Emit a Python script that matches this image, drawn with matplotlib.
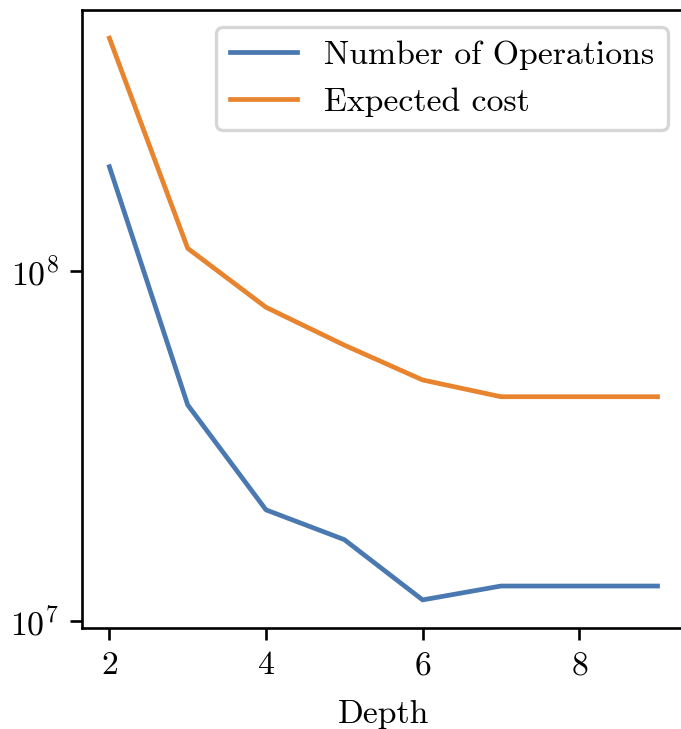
import matplotlib
matplotlib.use("Agg")
import matplotlib.pyplot as plt

# depth vs. cost
depth = [2, 3, 4, 5, 6, 7, 8, 9]
num_operations = [1.99e8, 4.15e7, 2.08e7, 1.71e7, 1.15e7, 1.26e7, 1.26e7, 1.26e7]
expected_cost = [4.64e8, 1.163e8, 7.89e7, 6.15e7, 4.89e7, 4.38e7, 4.38e7, 4.38e7]

plt.rcParams['font.family'] = ['cmr10', 'DejaVu Serif']
plt.rcParams['mathtext.fontset'] = 'cm'
plt.rcParams['axes.formatter.use_mathtext'] = True
plt.rcParams['font.size'] = 24.3
plt.rcParams['axes.linewidth'] = 1.9
plt.rcParams['xtick.major.size'] = 8.4
plt.rcParams['ytick.major.size'] = 8.4
plt.rcParams['xtick.major.width'] = 1.9
plt.rcParams['ytick.major.width'] = 1.9
plt.rcParams['xtick.major.pad'] = 8.4
plt.rcParams['ytick.major.pad'] = 8.4
plt.rcParams['patch.linewidth'] = 2.4

fig = plt.figure(figsize=(6.81, 7.29), dpi=100)
# right edge of the axes runs past the figure, as in the cropped original
ax = fig.add_axes([82 / 681, 101 / 729, 615 / 681, 618 / 729])

ax.plot(depth, num_operations, color='#4a78b0', lw=3.4, label='Number of Operations')
ax.plot(depth, expected_cost, color='#e8832e', lw=3.4, label='Expected cost')
ax.set_yscale('log')
ax.minorticks_off()
ax.set_xlim(1.65, 1.65 + 615 / 78.3)
ax.set_xticks([2, 4, 6, 8])
ax.spines['right'].set_visible(False)
ax.set_xlabel('Depth')
ax.xaxis.set_label_coords(301.5 / 615, -72 / 618)
ax.legend(loc='upper right', bbox_to_anchor=(668 / 681, 1 - 27 / 729),
          bbox_transform=fig.transFigure, borderaxespad=0)

fig.savefig('out.png', dpi=100)
